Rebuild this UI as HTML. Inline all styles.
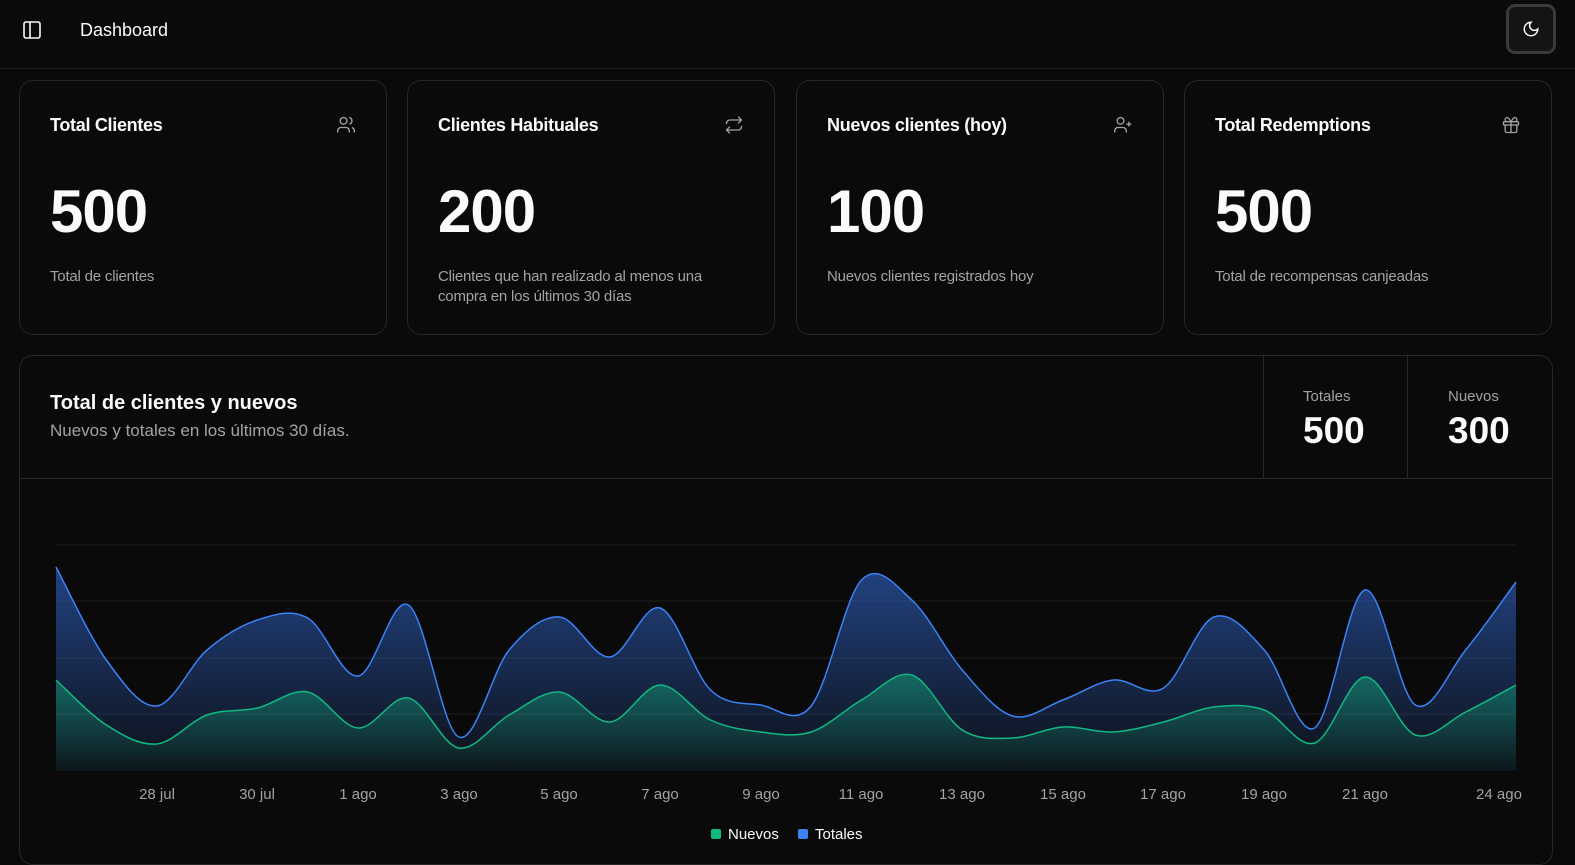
<!DOCTYPE html>
<html><head><meta charset="utf-8">
<style>
*{box-sizing:border-box;margin:0;padding:0}
body{width:1575px;height:857px;background:#0a0a0a;color:#fafafa;font-family:"Liberation Sans",sans-serif;overflow:hidden;position:relative}
.hdr{position:absolute;left:0;top:0;width:1575px;height:69px;border-bottom:1px solid #1f1f1f}
.card{position:absolute;top:80px;height:255px;width:368px;border:1px solid #262626;border-radius:14px;background:#0a0a0a}
.card .t{position:absolute;left:30px;top:34px;font-size:18px;font-weight:bold;letter-spacing:-0.3px}
.card .n{position:absolute;left:30px;top:96px;font-size:60px;font-weight:bold;letter-spacing:-1px}
.card .d{position:absolute;left:30px;top:186px;font-size:15px;color:#a3a3a3;line-height:20px;width:300px;letter-spacing:-0.2px}
.card svg{position:absolute;right:30px;top:34px}
.big{position:absolute;left:19px;top:355px;width:1534px;height:510px;border:1px solid #262626;border-radius:14px}
</style></head><body>
<div class="hdr">
<svg style="position:absolute;left:23px;top:21px" width="18" height="18" viewBox="0 0 18 18" fill="none" stroke="#fafafa" stroke-width="1.6"><rect x="1" y="1" width="16" height="16" rx="2"/><line x1="7" y1="1" x2="7" y2="17"/></svg>
<div style="position:absolute;left:80px;top:20px;font-size:18px">Dashboard</div>
<div style="position:absolute;left:1506px;top:4px;width:50px;height:50px;border:3px solid #3a3a3a;border-radius:9px;background:#141414"></div>
<svg style="position:absolute;left:1522px;top:20px" width="18" height="18" viewBox="0 0 24 24" fill="none" stroke="#fafafa" stroke-width="2"><path d="M12 3a6 6 0 0 0 9 9 9 9 0 1 1-9-9Z"/></svg>
</div>
<div class="card" style="left:19px"><div class="t">Total Clientes</div>
<svg width="20" height="20" viewBox="0 0 24 24" fill="none" stroke="#a3a3a3" stroke-width="1.6"><circle cx="9" cy="7" r="4"/><path d="M2 21v-2a4 4 0 0 1 4-4h6a4 4 0 0 1 4 4v2M16 3.1a4 4 0 0 1 0 7.8M22 21v-2a4 4 0 0 0-3-3.9"/></svg>
<div class="n">500</div><div class="d">Total de clientes</div></div>
<div class="card" style="left:407px"><div class="t">Clientes Habituales</div>
<svg width="20" height="20" viewBox="0 0 24 24" fill="none" stroke="#a3a3a3" stroke-width="1.6"><path d="m17 2 4 4-4 4M3 11v-1a4 4 0 0 1 4-4h14M7 22l-4-4 4-4M21 13v1a4 4 0 0 1-4 4H3"/></svg>
<div class="n">200</div><div class="d">Clientes que han realizado al menos una compra en los últimos 30 días</div></div>
<div class="card" style="left:796px"><div class="t">Nuevos clientes (hoy)</div>
<svg width="20" height="20" viewBox="0 0 24 24" fill="none" stroke="#a3a3a3" stroke-width="1.6"><circle cx="9" cy="7" r="4"/><path d="M2 21v-2a4 4 0 0 1 4-4h6a4 4 0 0 1 4 4v2M19 8v6M22 11h-6"/></svg>
<div class="n">100</div><div class="d">Nuevos clientes registrados hoy</div></div>
<div class="card" style="left:1184px"><div class="t">Total Redemptions</div>
<svg width="20" height="20" viewBox="0 0 24 24" fill="none" stroke="#a3a3a3" stroke-width="1.6"><rect x="3" y="8" width="18" height="4" rx="1"/><path d="M12 8v13M19 12v7a2 2 0 0 1-2 2H7a2 2 0 0 1-2-2v-7M7.5 8a2.5 2.5 0 0 1 0-5C9 3 12 8 12 8s3-5 4.5-5a2.5 2.5 0 0 1 0 5"/></svg>
<div class="n">500</div><div class="d">Total de recompensas canjeadas</div></div>

<div class="big">
<div style="position:absolute;left:30px;top:36px;font-size:20px;font-weight:bold">Total de clientes y nuevos</div>
<div style="position:absolute;left:30px;top:65px;font-size:17px;color:#a3a3a3">Nuevos y totales en los últimos 30 días.</div>
<div style="position:absolute;left:0;top:122px;width:1532px;border-top:1px solid #262626"></div>
<div style="position:absolute;left:1243px;top:0;height:122px;border-left:1px solid #262626"></div>
<div style="position:absolute;left:1387px;top:0;height:122px;border-left:1px solid #262626"></div>
<div style="position:absolute;left:1283px;top:32px;font-size:15px;color:#a3a3a3">Totales</div>
<div style="position:absolute;left:1283px;top:54px;font-size:37px;font-weight:bold">500</div>
<div style="position:absolute;left:1428px;top:32px;font-size:15px;color:#a3a3a3">Nuevos</div>
<div style="position:absolute;left:1428px;top:54px;font-size:37px;font-weight:bold">300</div>
</div>

<svg id="ch" style="position:absolute;left:0;top:0" width="1575" height="857">
<defs>
<linearGradient id="gb" x1="0" y1="0" x2="0" y2="1"><stop offset="0" stop-color="#2c5bb5" stop-opacity=".7"/><stop offset="1" stop-color="#2c5bb5" stop-opacity=".08"/></linearGradient>
<linearGradient id="gg" x1="0" y1="0" x2="0" y2="1"><stop offset="0" stop-color="#10b981" stop-opacity=".45"/><stop offset="1" stop-color="#10b981" stop-opacity=".03"/></linearGradient>
</defs>
<g stroke="#1f1f1f"><line x1="56" x2="1516" y1="545" y2="545"/><line x1="56" x2="1516" y1="601" y2="601"/><line x1="56" x2="1516" y1="658" y2="658"/><line x1="56" x2="1516" y1="714" y2="714"/></g>
<path id="ab" fill="url(#gb)"/><path id="ag" fill="url(#gg)"/>
<path id="lb" fill="none" stroke="#3b82f6" stroke-width="1.5"/><path id="lg" fill="none" stroke="#10b981" stroke-width="1.5"/>
<g fill="#a3a3a3" font-size="15" text-anchor="middle">
<text x="157" y="799">28 jul</text><text x="257" y="799">30 jul</text><text x="358" y="799">1 ago</text><text x="459" y="799">3 ago</text><text x="559" y="799">5 ago</text><text x="660" y="799">7 ago</text><text x="761" y="799">9 ago</text><text x="861" y="799">11 ago</text><text x="962" y="799">13 ago</text><text x="1063" y="799">15 ago</text><text x="1163" y="799">17 ago</text><text x="1264" y="799">19 ago</text><text x="1365" y="799">21 ago</text><text x="1499" y="799">24 ago</text>
</g>
<rect x="711" y="829" width="10" height="10" rx="2" fill="#10b981"/><text x="728" y="839" fill="#fafafa" font-size="15">Nuevos</text>
<rect x="798" y="829" width="10" height="10" rx="2" fill="#3b82f6"/><text x="815" y="839" fill="#fafafa" font-size="15">Totales</text>
</svg>
<script>
var B=[567,660,706,650,620,618,676,605,737,650,617,657,608,690,705,706,580,600,670,716,700,680,688,617,650,728,590,705,650,582];
var G=[680,725,744,715,708,692,728,698,748,715,692,722,685,720,732,732,700,675,730,738,727,732,722,707,710,743,677,735,712,685];
function path(a){var s=50.345,p=a.map(function(y,i){return[56+i*s,y]});var d="M"+p[0][0]+","+p[0][1];
for(var i=0;i<p.length-1;i++){var p0=p[i-1]||p[i],p1=p[i],p2=p[i+1],p3=p[i+2]||p2;
d+=" C"+(p1[0]+(p2[0]-p0[0])/6)+","+(p1[1]+(p2[1]-p0[1])/6)+" "+(p2[0]-(p3[0]-p1[0])/6)+","+(p2[1]-(p3[1]-p1[1])/6)+" "+p2[0]+","+p2[1];}return d;}
var b=path(B),g=path(G);
document.getElementById('lb').setAttribute('d',b);document.getElementById('lg').setAttribute('d',g);
document.getElementById('ab').setAttribute('d',b+" L1516,771 L56,771Z");document.getElementById('ag').setAttribute('d',g+" L1516,771 L56,771Z");
</script>
</body></html>
